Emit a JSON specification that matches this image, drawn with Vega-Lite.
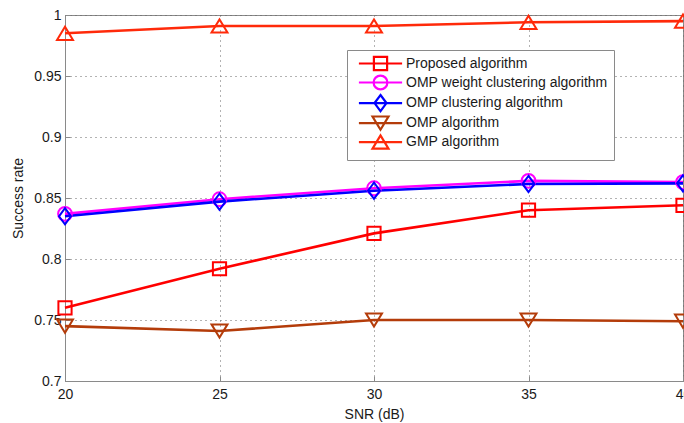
{
  "$schema": "https://vega.github.io/schema/vega-lite/v6.json",
  "width": 618,
  "height": 366,
  "autosize": {"type": "none"},
  "padding": {"left": 65, "top": 15, "right": 1, "bottom": 42},
  "background": "white",
  "config": {
    "font": "Liberation Sans",
    "view": {"stroke": "#8a8a8a", "strokeWidth": 1},
    "axis": {
      "labelFont": "Liberation Sans",
      "titleFont": "Liberation Sans",
      "labelFontSize": 14,
      "titleFontSize": 14,
      "titleFontWeight": "normal",
      "labelColor": "#1a1a1a",
      "titleColor": "#1a1a1a",
      "labelFlush": false,
      "labelOverlap": false,
      "domainColor": "#8a8a8a",
      "ticks": true,
      "tickSize": -5,
      "tickColor": "#8a8a8a",
      "gridColor": "#666",
      "gridDash": [1, 4],
      "gridOpacity": 1,
      "gridWidth": 1
    }
  },
  "data": {
    "values": [
      {"snr": 20, "rate": 0.760, "series": "Proposed algorithm"},
      {"snr": 25, "rate": 0.792, "series": "Proposed algorithm"},
      {"snr": 30, "rate": 0.821, "series": "Proposed algorithm"},
      {"snr": 35, "rate": 0.840, "series": "Proposed algorithm"},
      {"snr": 40, "rate": 0.844, "series": "Proposed algorithm"},
      {"snr": 20, "rate": 0.837, "series": "OMP weight clustering algorithm"},
      {"snr": 25, "rate": 0.849, "series": "OMP weight clustering algorithm"},
      {"snr": 30, "rate": 0.858, "series": "OMP weight clustering algorithm"},
      {"snr": 35, "rate": 0.864, "series": "OMP weight clustering algorithm"},
      {"snr": 40, "rate": 0.863, "series": "OMP weight clustering algorithm"},
      {"snr": 20, "rate": 0.835, "series": "OMP clustering algorithm"},
      {"snr": 25, "rate": 0.847, "series": "OMP clustering algorithm"},
      {"snr": 30, "rate": 0.856, "series": "OMP clustering algorithm"},
      {"snr": 35, "rate": 0.8615, "series": "OMP clustering algorithm"},
      {"snr": 40, "rate": 0.862, "series": "OMP clustering algorithm"},
      {"snr": 20, "rate": 0.745, "series": "OMP algorithm"},
      {"snr": 25, "rate": 0.741, "series": "OMP algorithm"},
      {"snr": 30, "rate": 0.750, "series": "OMP algorithm"},
      {"snr": 35, "rate": 0.750, "series": "OMP algorithm"},
      {"snr": 40, "rate": 0.749, "series": "OMP algorithm"},
      {"snr": 20, "rate": 0.985, "series": "GMP algorithm"},
      {"snr": 25, "rate": 0.991, "series": "GMP algorithm"},
      {"snr": 30, "rate": 0.991, "series": "GMP algorithm"},
      {"snr": 35, "rate": 0.994, "series": "GMP algorithm"},
      {"snr": 40, "rate": 0.995, "series": "GMP algorithm"}
    ]
  },
  "encoding": {
    "x": {
      "field": "snr", "type": "quantitative",
      "scale": {"domain": [20, 40], "nice": false, "zero": false},
      "axis": {"values": [20, 25, 30, 35, 40], "title": "SNR (dB)", "labelPadding": 11, "titlePadding": 6, "format": "d"}
    },
    "y": {
      "field": "rate", "type": "quantitative",
      "scale": {"domain": [0.7, 1], "nice": false, "zero": false},
      "axis": {"values": [0.7, 0.75, 0.8, 0.85, 0.9, 0.95, 1], "title": "Success rate", "format": "~g", "labelPadding": 9, "titlePadding": 8}
    },
    "color": {
      "field": "series", "type": "nominal",
      "scale": {
        "domain": ["Proposed algorithm", "OMP weight clustering algorithm", "OMP clustering algorithm", "OMP algorithm", "GMP algorithm"],
        "range": ["#ff0000", "#ff00ff", "#0000ff", "#b43c0a", "#ff2a0a"]
      },
      "legend": {
        "title": null,
        "orient": "none",
        "legendX": 282,
        "legendY": 35,
        "padding": 6,
        "strokeColor": "#8a8a8a",
        "fillColor": "white",
        "labelFont": "Liberation Sans",
        "labelFontSize": 14,
        "labelColor": "#1a1a1a",
        "labelLimit": 300,
        "symbolSize": 144,
        "symbolStrokeWidth": 2.2,
        "symbolOpacity": 1,
        "symbolFillColor": "transparent",
        "symbolOffset": 20,
        "labelOffset": 18,
        "rowPadding": -4.4
      }
    }
  },
  "layer": [
    {
      "mark": {"type": "line", "strokeWidth": 2.6}
    },
    {
      "mark": {"type": "point", "filled": false, "strokeWidth": 2, "size": 144, "opacity": 0},
      "encoding": {
        "shape": {
          "field": "series", "type": "nominal",
          "scale": {
            "domain": ["Proposed algorithm", "OMP weight clustering algorithm", "OMP clustering algorithm", "OMP algorithm", "GMP algorithm"],
            "range": [
              "M-3.6,0H3.6M-1.1,-1.1H1.1V1.1H-1.1Z",
              "M-3.6,0H3.6M-1.15,0A1.15,1.15 0 1,0 1.15,0A1.15,1.15 0 1,0 -1.15,0Z",
              "M-3.6,0H3.6M0,-1.35L1,0L0,1.35L-1,0Z",
              "M-3.6,0H3.6M-1.33,-1.1H1.33L0,1.1Z",
              "M-3.6,0H3.6M-1.33,1.1H1.33L0,-1.1Z"
            ]
          }
        }
      }
    },
    {
      "transform": [{"filter": "datum.series === 'Proposed algorithm'"}],
      "mark": {"type": "point", "filled": false, "strokeWidth": 2, "size": 144, "opacity": 1, "shape": "M-1.1,-1.1H1.1V1.1H-1.1Z"}
    },
    {
      "transform": [{"filter": "datum.series === 'OMP weight clustering algorithm'"}],
      "mark": {"type": "point", "filled": false, "strokeWidth": 2, "size": 144, "opacity": 1, "shape": "M-1.15,0A1.15,1.15 0 1,0 1.15,0A1.15,1.15 0 1,0 -1.15,0Z"}
    },
    {
      "transform": [{"filter": "datum.series === 'OMP clustering algorithm'"}],
      "mark": {"type": "point", "filled": false, "strokeWidth": 2, "size": 144, "opacity": 1, "shape": "M0,-1.35L1,0L0,1.35L-1,0Z"}
    },
    {
      "transform": [{"filter": "datum.series === 'OMP algorithm'"}],
      "mark": {"type": "point", "filled": false, "strokeWidth": 2, "size": 144, "opacity": 1, "shape": "M-1.33,-1.1H1.33L0,1.1Z"}
    },
    {
      "transform": [{"filter": "datum.series === 'GMP algorithm'"}],
      "mark": {"type": "point", "filled": false, "strokeWidth": 2, "size": 144, "opacity": 1, "shape": "M-1.33,1.1H1.33L0,-1.1Z"}
    }
  ]
}
